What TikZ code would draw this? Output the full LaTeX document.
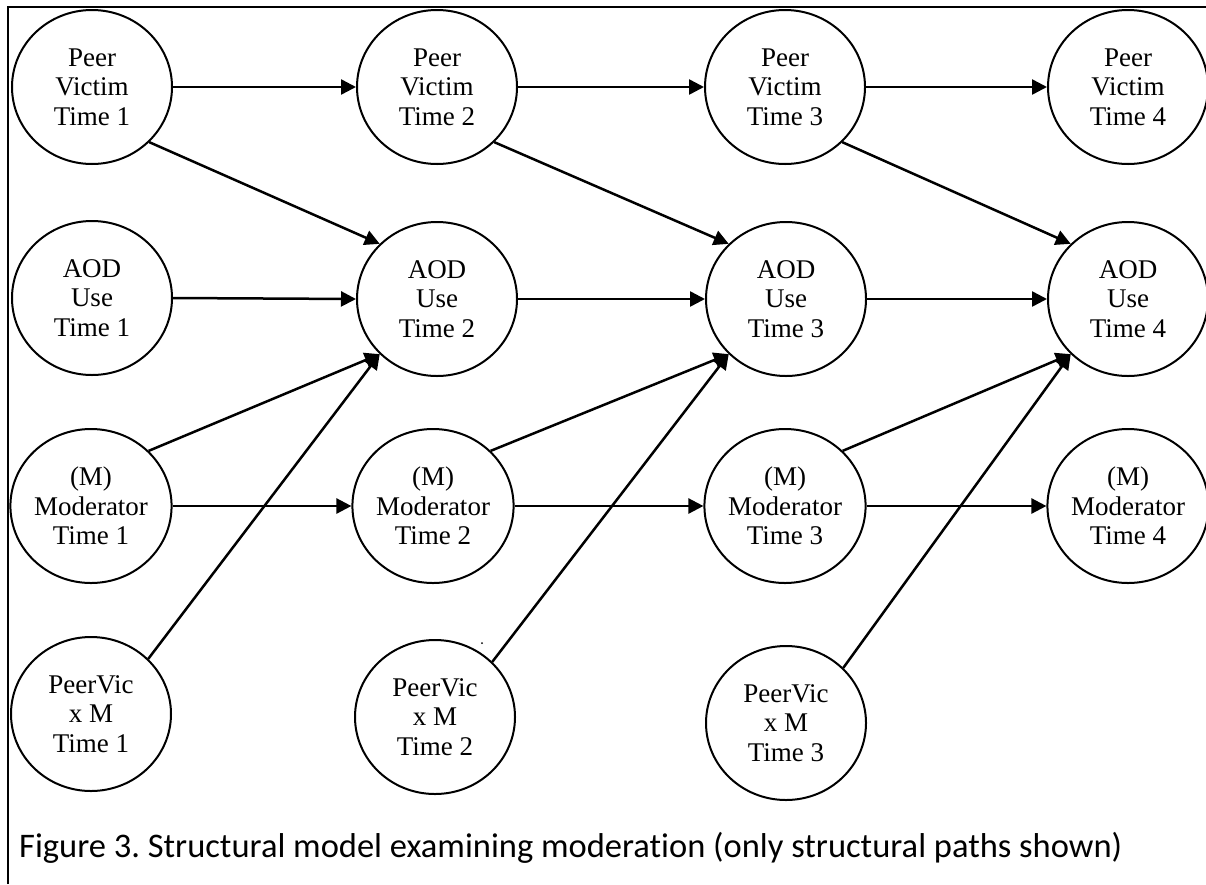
\documentclass[tikz,border=0pt]{standalone}
\usepackage{fontspec}
\setmainfont{Liberation Serif}
\newfontfamily\capfont[Ligatures=NoCommon]{Carlito}
\usetikzlibrary{shapes.geometric,arrows.meta}
\frenchspacing
\begin{document}
\begin{tikzpicture}[x=1pt,y=-1pt,
  var/.style={ellipse,draw,line width=2pt,minimum width=160pt,minimum height=154pt,inner sep=0pt,align=center,font=\fontsize{27}{29.5}\selectfont},
  edge/.style={line width=2.5pt,-{Triangle[length=15pt,width=15pt]}},
  frame/.style={line width=2pt}]
\useasboundingbox (0,0) rectangle (1206,884);
\draw[frame] (8,884) -- (8,7) -- (1206,7);
% row 1
\node[var] (pv1) at (92,87) {Peer\\Victim\\Time 1};
\node[var] (pv2) at (437,87) {Peer\\Victim\\Time 2};
\node[var] (pv3) at (785,87) {Peer\\Victim\\Time 3};
\node[var] (pv4) at (1128,87) {Peer\\Victim\\Time 4};
% row 2
\node[var] (aod1) at (92,298) {AOD\\Use\\Time 1};
\node[var] (aod2) at (437,299) {AOD\\Use\\Time 2};
\node[var] (aod3) at (786,299) {AOD\\Use\\Time 3};
\node[var] (aod4) at (1128,299) {AOD\\Use\\Time 4};
% row 3
\node[var] (mod1) at (91,506) {(M)\\Moderator\\Time 1};
\node[var] (mod2) at (433,506) {(M)\\Moderator\\Time 2};
\node[var] (mod3) at (785,506) {(M)\\Moderator\\Time 3};
\node[var] (mod4) at (1128,506) {(M)\\Moderator\\Time 4};
% row 4
\node[var] (pvm1) at (91,714) {PeerVic\\x M\\Time 1};
\node[var] (pvm2) at (435,717) {PeerVic\\x M\\Time 2};
\node[var] (pvm3) at (786,723) {PeerVic\\x M\\Time 3};
\fill (482,643) circle (1pt);
% horizontal paths
\draw[edge] (pv1.east) -- (pv2.west);
\draw[edge] (pv2.east) -- (pv3.west);
\draw[edge] (pv3.east) -- (pv4.west);
\draw[edge] (aod1.east) -- (aod2.west);
\draw[edge] (aod2.east) -- (aod3.west);
\draw[edge] (aod3.east) -- (aod4.west);
\draw[edge] (mod1.east) -- (mod2.west);
\draw[edge] (mod2.east) -- (mod3.west);
\draw[edge] (mod3.east) -- (mod4.west);
% cross-lagged paths
\draw[edge] (pv1.south east) -- (aod2.north west);
\draw[edge] (pv2.south east) -- (aod3.north west);
\draw[edge] (pv3.south east) -- (aod4.north west);
\draw[edge] (mod1.north east) -- (aod2.south west);
\draw[edge] (mod2.north east) -- (aod3.south west);
\draw[edge] (mod3.north east) -- (aod4.south west);
\draw[edge] (pvm1.north east) -- (aod2.south west);
\draw[edge] (pvm2.north east) -- (aod3.south west);
\draw[edge] (pvm3.north east) -- (aod4.south west);
% caption
\node[anchor=west,inner sep=0pt,font=\capfont\fontsize{34.5}{40}\selectfont] (cap) at (19,848) {Figure 3. Structural model examining moderation (only structural paths shown)};
\end{tikzpicture}
\end{document}
